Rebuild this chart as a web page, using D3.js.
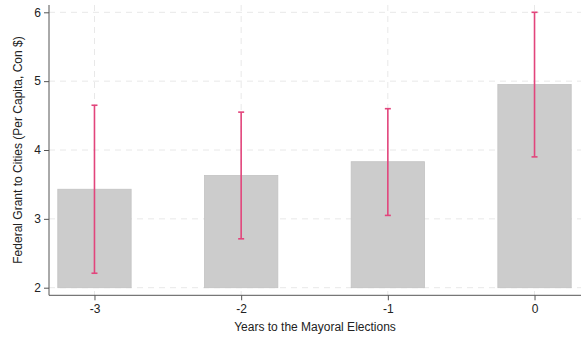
<!DOCTYPE html>
<html>
<head>
<meta charset="utf-8">
<script src="https://cdn.jsdelivr.net/npm/d3@7"></script>
<style>
  html, body { margin: 0; padding: 0; background: #fff; }
  svg { display: block; font-family: "Liberation Sans", Arial, sans-serif; }
</style>
</head>
<body>
<svg id="chart" width="581" height="337"></svg>
<script>
// Years relative to the mayoral election
const years = [-3, -2, -1, 0];
// Mean federal grant per capita (constant $)
const grantMean = [3.43, 3.63, 3.83, 4.95];
// Confidence interval bounds
const ciLow = [2.21, 2.71, 3.05, 3.90];
const ciHigh = [4.65, 4.55, 4.60, 6.00];
const yTicks = [2, 3, 4, 5, 6];
const xTicks = [-3, -2, -1, 0];

const svg = d3.select("#chart");
const margin = { left: 49, right: 1, top: 5, bottom: 42 };
const W = 581, H = 337;

const x = d3.scaleLinear().domain([-3.31, 0.31]).range([margin.left, W - margin.right]);
const y = d3.scaleLinear().domain([2, 6]).range([287.7, 12.3]);
const plotBottom = 295.3;

// Grid
const grid = svg.append("g").attr("stroke", "#e8e8e8").attr("stroke-width", 1).attr("stroke-dasharray", "6,5");
grid.selectAll("line.h").data(yTicks).join("line")
  .attr("x1", margin.left).attr("x2", W)
  .attr("y1", d => y(d)).attr("y2", d => y(d));
grid.selectAll("line.v").data(xTicks).join("line")
  .attr("x1", d => x(d)).attr("x2", d => x(d))
  .attr("y1", margin.top).attr("y2", plotBottom);

// Bars
const barW = x(0.25) - x(-0.25);
svg.append("g").selectAll("rect").data(years).join("rect")
  .attr("x", (d) => x(d) - barW / 2)
  .attr("width", barW)
  .attr("y", (d, i) => y(grantMean[i]))
  .attr("height", (d, i) => y(2) - y(grantMean[i]))
  .attr("fill", "#cccccc")
  .attr("stroke", "#c2c2c2")
  .attr("stroke-width", 0.8);

// Error bars
const eb = svg.append("g").attr("stroke", "#e2457c").attr("stroke-width", 1.6).attr("fill", "none");
years.forEach((d, i) => {
  const cx = x(d);
  eb.append("line").attr("x1", cx).attr("x2", cx).attr("y1", y(ciLow[i])).attr("y2", y(ciHigh[i]));
  eb.append("line").attr("x1", cx - 3).attr("x2", cx + 3).attr("y1", y(ciLow[i])).attr("y2", y(ciLow[i]));
  eb.append("line").attr("x1", cx - 3).attr("x2", cx + 3).attr("y1", y(ciHigh[i])).attr("y2", y(ciHigh[i]));
});

// Axes (plain hyphen for negative labels)
const fmt = d => String(d);
const yAxis = d3.axisLeft(y).tickValues(yTicks).tickSize(5).tickPadding(3).tickFormat(fmt);
const gy = svg.append("g").attr("transform", `translate(${margin.left},0)`).call(yAxis);
gy.select(".domain").attr("d", `M0,${margin.top}V${plotBottom}`);

const xAxis = d3.axisBottom(x).tickValues(xTicks).tickSize(5).tickPadding(4).tickFormat(fmt);
const gx = svg.append("g").attr("transform", `translate(0,${plotBottom})`).call(xAxis);
gx.select(".domain").attr("d", `M${margin.left},0H${W}`);

[gx, gy].forEach(g => {
  g.selectAll(".domain").attr("stroke", "#555").attr("stroke-width", 1);
  g.selectAll(".tick line").attr("stroke", "#555");
  g.selectAll(".tick text").attr("fill", "#222").style("font-size", "12px").style("font-family", "Liberation Sans, Arial, sans-serif");
});

// Axis titles
svg.append("text")
  .attr("x", (margin.left + W) / 2).attr("y", 330.5)
  .attr("text-anchor", "middle").attr("fill", "#222").style("font-size", "12px")
  .text("Years to the Mayoral Elections");

svg.append("text")
  .attr("transform", `translate(22,${(12 + 288) / 2}) rotate(-90)`)
  .attr("text-anchor", "middle").attr("fill", "#222").style("font-size", "12px")
  .text("Federal Grant to Cities (Per Capita, Con $)");
</script>
</body>
</html>
